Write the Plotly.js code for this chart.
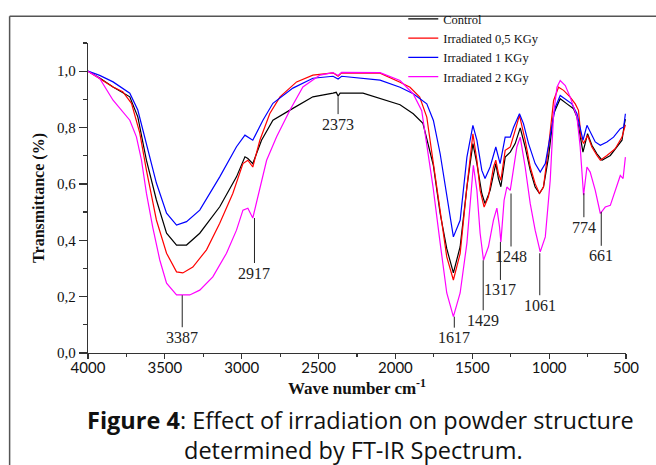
<!DOCTYPE html>
<html>
<head>
<meta charset="utf-8">
<script src="https://cdn.plot.ly/plotly-3.0.1.min.js"></script>
<style>html,body{margin:0;padding:0;background:#fff;}#chart{width:656px;height:465px;}</style>
</head>
<body>
<div id="chart"></div>
<script>
// ---- Data (wave number cm-1, transmittance) ----
const wnControl = [4000,3924,3837,3728,3676,3620,3555,3489,3424,3359,3273,3143,3034,2979,2960,2928,2871,2797,2667,2537,2406,2385,2373,2360,2211,2100,1970,1884,1821,1753,1709,1666,1623,1579,1535,1496,1470,1438,1417,1384,1347,1330,1314,1286,1253,1221,1188,1156,1123,1091,1063,1037,1004,971,928,884,841,819,798,780,750,722,689,656,602,559,526,510,504];
const tControl  = [1.0,0.976,0.944,0.909,0.838,0.684,0.543,0.425,0.383,0.383,0.425,0.519,0.625,0.696,0.690,0.672,0.755,0.826,0.868,0.909,0.922,0.925,0.912,0.922,0.922,0.903,0.881,0.849,0.815,0.665,0.495,0.370,0.284,0.377,0.589,0.743,0.672,0.566,0.530,0.577,0.672,0.620,0.590,0.695,0.713,0.743,0.799,0.731,0.648,0.589,0.566,0.589,0.695,0.849,0.902,0.884,0.867,0.837,0.772,0.713,0.778,0.737,0.707,0.684,0.701,0.731,0.755,0.814,0.830];

const wnIrr05 = [4000,3924,3837,3774,3717,3663,3620,3555,3489,3424,3383,3318,3229,3143,3058,2992,2960,2928,2882,2817,2751,2643,2537,2406,2373,2350,2100,1970,1905,1842,1796,1753,1709,1666,1623,1579,1535,1496,1470,1449,1423,1395,1362,1347,1330,1314,1286,1253,1221,1193,1156,1123,1091,1063,1037,1004,971,939,906,863,830,809,793,776,750,722,689,667,624,570,526,510,504];
const tIrr05  = [1.0,0.975,0.944,0.927,0.886,0.780,0.649,0.472,0.354,0.288,0.284,0.305,0.366,0.460,0.566,0.672,0.684,0.660,0.755,0.850,0.909,0.962,0.986,0.994,0.982,0.994,0.993,0.961,0.943,0.908,0.837,0.672,0.495,0.341,0.259,0.353,0.589,0.778,0.684,0.577,0.518,0.554,0.660,0.684,0.637,0.613,0.719,0.731,0.790,0.843,0.755,0.660,0.601,0.566,0.589,0.731,0.896,0.943,0.932,0.908,0.884,0.861,0.766,0.743,0.772,0.731,0.701,0.684,0.701,0.725,0.766,0.802,0.810];

const wnIrr1 = [4000,3924,3837,3728,3676,3620,3555,3489,3424,3359,3273,3143,3034,2979,2928,2862,2797,2667,2537,2406,2373,2350,2100,1970,1884,1796,1753,1709,1666,1623,1579,1535,1496,1470,1438,1417,1384,1347,1330,1319,1286,1253,1232,1193,1167,1134,1091,1058,1025,993,960,928,884,852,819,798,780,754,733,700,667,624,581,537,515,504];
const tIrr1  = [1.0,0.985,0.962,0.922,0.862,0.745,0.603,0.496,0.454,0.466,0.507,0.625,0.732,0.773,0.755,0.826,0.886,0.940,0.975,0.982,0.972,0.982,0.968,0.943,0.920,0.884,0.825,0.707,0.554,0.412,0.471,0.695,0.808,0.755,0.648,0.619,0.660,0.731,0.695,0.672,0.766,0.766,0.800,0.849,0.814,0.743,0.672,0.642,0.672,0.766,0.872,0.914,0.896,0.884,0.849,0.802,0.755,0.808,0.784,0.749,0.737,0.749,0.766,0.796,0.802,0.849];

const wnIrr2 = [4000,3924,3837,3728,3685,3652,3620,3579,3533,3489,3424,3387,3338,3273,3188,3099,3034,2992,2960,2928,2882,2838,2773,2686,2602,2491,2406,2373,2350,2100,1970,1885,1829,1796,1755,1709,1666,1623,1579,1535,1503,1493,1470,1449,1427,1395,1362,1340,1323,1314,1293,1275,1253,1210,1188,1156,1123,1091,1058,1025,993,971,949,928,895,863,819,798,776,754,733,700,667,635,602,570,537,519,504];
const tIrr2  = [1.0,0.974,0.897,0.826,0.767,0.684,0.567,0.447,0.330,0.248,0.206,0.205,0.206,0.223,0.270,0.354,0.436,0.507,0.514,0.479,0.589,0.684,0.767,0.862,0.944,0.986,0.995,0.985,0.996,0.995,0.967,0.920,0.860,0.743,0.588,0.390,0.213,0.129,0.213,0.390,0.589,0.666,0.577,0.425,0.329,0.377,0.472,0.514,0.448,0.394,0.542,0.589,0.577,0.731,0.766,0.660,0.530,0.436,0.359,0.412,0.613,0.849,0.943,0.967,0.949,0.908,0.837,0.731,0.560,0.660,0.642,0.577,0.495,0.518,0.524,0.577,0.630,0.619,0.695];

const seriesNames = ['Control','Irradiated 0,5 KGy','Irradiated 1 KGy','Irradiated 2 KGy'];

// Peak labels: wave number and transmittance where the label leader starts
const peakLabels = ['3387','2917','2373','1617','1429','1317','1248','1061','774','661'];
const peakWn = [3387,2917,2373,1617,1429,1317,1248,1061,774,661];
const peakT  = [0.205,0.479,0.908,0.129,0.329,0.394,0.566,0.354,0.567,0.501];

const xTickVals = [4000,3500,3000,2500,2000,1500,1000,500];
const xTickText = ['4000','3500','3000','2500','2000','1500','1000','500'];
const yTickVals = [0,0.2,0.4,0.6,0.8,1.0];
const yTickText = ['0,0','0,2','0,4','0,6','0,8','1,0'];

// ---- Styles ----
const colors = ['#000000','#ff0000','#0000ff','#ff00ff'];
const peakOffsets = [42,55,27,21,60,48,63,52,34,44];
const serif = 'Liberation Serif, Times New Roman, serif';

const xs = [wnControl, wnIrr05, wnIrr1, wnIrr2];
const ys = [tControl, tIrr05, tIrr1, tIrr2];
const traces = xs.map((x,i)=>({
  x: x, y: ys[i], type:'scatter', mode:'lines', name: seriesNames[i],
  line:{color:colors[i], width:1.2}
}));

const annotations = peakLabels.map((t,i)=>({
  x: peakWn[i], y: peakT[i], xref:'x', yref:'y', text: t,
  showarrow:true, arrowhead:0, arrowwidth:1, arrowcolor:'#222',
  ax:0, ay:peakOffsets[i],
  font:{family:serif, size:16, color:'#222'}
}));
annotations.push({
  xref:'paper', yref:'paper', x:0.5056, y:-0.216, xanchor:'center', yanchor:'middle', showarrow:false,
  text:'<b>Figure 4</b>: Effect of irradiation on powder structure',
  font:{family:'Open Sans, sans-serif', size:23.5, color:'#111'}
});
annotations.push({
  xref:'paper', yref:'paper', x:0.494, y:-0.3126, xanchor:'center', yanchor:'middle', showarrow:false,
  text:'determined by FT-IR Spectrum.',
  font:{family:'Open Sans, sans-serif', size:23.5, color:'#111'}
});

const layout = {
  width:656, height:465,
  margin:{l:88, r:30, t:43, b:112, autoexpand:false},
  paper_bgcolor:'#fff', plot_bgcolor:'#fff',
  showlegend:true,
  legend:{x:0.586, y:1.125, xanchor:'left', yanchor:'top', bgcolor:'rgba(0,0,0,0)',
    font:{family:serif, size:12.5, color:'#111'}, tracegroupgap:0},
  xaxis:{range:[4000,500], tickvals:xTickVals, ticktext:xTickText,
    ticks:'outside', ticklen:5, tickwidth:1.2, tickcolor:'#333', ticklabelstandoff:-4,
    showline:true, linecolor:'#333', linewidth:1.3, showgrid:false, zeroline:false,
    minor:{dtick:250, tick0:500, ticks:'outside', ticklen:3, tickcolor:'#333', showgrid:false},
    tickfont:{family:'Lato, sans-serif', size:15, color:'#111'},
    title:{text:'<b>Wave number cm<sup>-1</sup></b>', font:{family:serif, size:17, color:'#111'}, standoff:0}
  },
  yaxis:{range:[0,1.1], tickvals:yTickVals, ticktext:yTickText,
    ticks:'outside', ticklen:8, tickwidth:1.2, tickcolor:'#333',
    showline:true, linecolor:'#333', linewidth:1.3, showgrid:false, zeroline:false,
    minor:{dtick:0.1, tick0:0, ticks:'outside', ticklen:4, tickcolor:'#333', showgrid:false},
    tickfont:{family:serif, size:15, color:'#111'},
    title:{text:'<b>Transmittance (%)</b>', font:{family:serif, size:16, color:'#111'}, standoff:8}
  },
  annotations: annotations,
  shapes:[
    {type:'line', xref:'paper', yref:'paper', x0:-0.1457, x1:1.06, y0:1.086, y1:1.086, line:{color:'#555', width:1.5}},
    {type:'line', xref:'paper', yref:'paper', x0:-0.1457, x1:-0.1457, y0:1.086, y1:-0.4, line:{color:'#555', width:1.5}}
  ]
};

Plotly.newPlot('chart', traces, layout, {displayModeBar:false, staticPlot:true});
</script>
</body>
</html>
